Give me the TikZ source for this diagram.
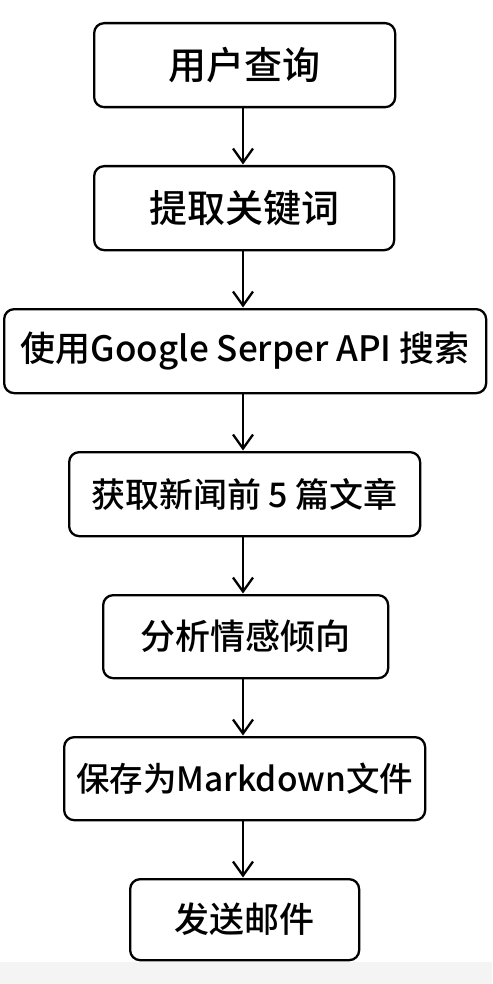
\documentclass[tikz,border=0pt]{standalone}
\usepackage{fontspec}
\setmainfont{Noto Sans CJK SC}[UprightFont=* Medium]
\usetikzlibrary{arrows.meta}
\definecolor{bandgray}{HTML}{F4F4F4}
\tikzset{
  stepbox/.style={draw=black, line width=2.3pt, rounded corners=10pt, fill=white, inner sep=0pt, anchor=north west},
  flow/.style={draw=black, line width=2.3pt, -{Straight Barb[length=14pt,width=20pt,line width=2.3pt]}, shorten >=0.5pt}
}
\newcommand{\fs}[1]{\fontsize{#1pt}{#1pt}\selectfont}
\begin{document}
\begin{tikzpicture}[x=1pt,y=-1pt]
\useasboundingbox (0,0) rectangle (492,984);
\fill[white] (0,0) rectangle (492,962);
\fill[bandgray] (0,962) rectangle (492,984);
\node[stepbox, minimum width=301pt, minimum height=84pt] (b1) at (93,22) {};
\node[font=\fs{38}] (t1) at (b1.center) {用户查询};
\node[stepbox, minimum width=300pt, minimum height=84pt] (b2) at (93,165) {};
\node[font=\fs{38}] (t2) at (b2.center) {提取关键词};
\node[stepbox, minimum width=482pt, minimum height=84pt] (b3) at (3,308) {};
\node[font=\fs{35}] (t3) at (b3.center) {使用Google Serper API 搜索};
\node[stepbox, minimum width=351pt, minimum height=84pt] (b4) at (68,451) {};
\node[font=\fs{34}] (t4) at (b4.center) {获取新闻前 5 篇文章};
\node[stepbox, minimum width=285pt, minimum height=83pt] (b5) at (102,594) {};
\node[font=\fs{35}] (t5) at (b5.center) {分析情感倾向};
\node[stepbox, minimum width=361pt, minimum height=83pt] (b6) at (63,736) {};
\node[font=\fs{33.5}] (t6) at (b6.center) {保存为Markdown文件};
\node[stepbox, minimum width=229pt, minimum height=81pt] (b7) at (129,878) {};
\node[font=\fs{35}] (t7) at (b7.center) {发送邮件};
\draw[flow] (b1.south -| 243,0) -- (b2.north -| 243,0);
\draw[flow] (b2.south -| 243,0) -- (b3.north -| 243,0);
\draw[flow] (b3.south -| 243,0) -- (b4.north -| 243,0);
\draw[flow] (b4.south -| 243,0) -- (b5.north -| 243,0);
\draw[flow] (b5.south -| 243,0) -- (b6.north -| 243,0);
\draw[flow] (b6.south -| 243,0) -- (b7.north -| 243,0);
\end{tikzpicture}
\end{document}
